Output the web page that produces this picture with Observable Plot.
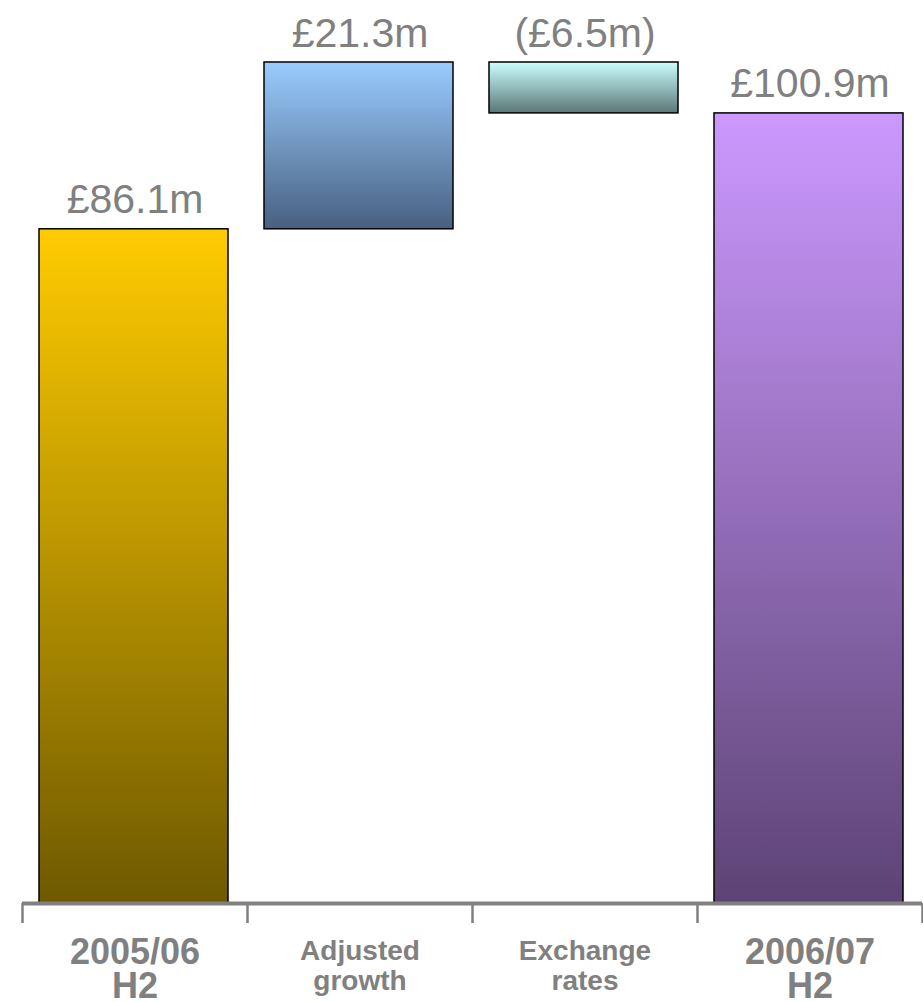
<!DOCTYPE html>
<html>
<head>
<meta charset="utf-8">
<script src="https://cdn.jsdelivr.net/npm/d3@7"></script>
<script src="https://cdn.jsdelivr.net/npm/@observablehq/plot@0.6"></script>
<style>
  html, body { margin: 0; padding: 0; background: #fff; }
  #chart svg { display: block; }
</style>
</head>
<body>
<div id="chart"></div>
<script>
// ---- data ----
const categories = ["2005/06\nH2", "Adjusted\ngrowth", "Exchange\nrates", "2006/07\nH2"];
const kinds = ["total", "delta", "delta", "total"];
const values = [86.1, 21.3, -6.5, 100.9];
const valueLabels = ["£86.1m", "£21.3m", "(£6.5m)", "£100.9m"];

// ---- palette (gradient top / bottom per bar) ----
const gradTop = ["#FFCC00", "#99CCFF", "#CCFFFF", "#CC99FF"];
const gradBottom = ["#6E5900", "#486080", "#5A7777", "#5C4374"];

// waterfall layout
let run = 0;
const rows = categories.map((c, i) => {
  let y1, y2;
  if (kinds[i] === "total") { y1 = 0; y2 = values[i]; }
  else { y1 = run; y2 = run + values[i]; }
  run = y2;
  return {i, c, kind: kinds[i], y1, y2, top: Math.max(y1, y2), label: valueLabels[i]};
});
const yMax = d3.max(rows, d => d.top);

const font = "'Liberation Sans', Arial, Helvetica, sans-serif";
const grey = "#808080";

const chart = Plot.plot({
  width: 923,
  height: 1002,
  marginLeft: 22,
  marginRight: 1,
  marginTop: 62,
  marginBottom: 99,
  style: {background: "#fff", fontFamily: font, overflow: "visible"},
  x: {domain: [0, categories.length], axis: null},
  y: {domain: [0, yMax], axis: null},
  marks: [
    ...rows.map(d => Plot.rectY([d], {
      x1: r => r.i, x2: r => r.i + 1,
      y1: "y1", y2: "y2",
      insetLeft: 17, insetRight: 19,
      fill: `url(#grad${d.i})`,
      stroke: "#000",
      strokeWidth: 1.5
    })),
    Plot.ruleY([0], {stroke: grey, strokeWidth: 4}),
    Plot.ruleX(d3.range(categories.length + 1), {
      x: d => d, y1: 0, y2: 0, insetTop: 20,
      stroke: grey, strokeWidth: 2.5
    }),
    Plot.text(rows, {
      x: d => d.i + 0.5, y: "top", text: "label",
      lineAnchor: "bottom", dy: -16,
      fontSize: 41, fill: grey, fontFamily: font
    }),
    Plot.text(rows.filter(d => d.kind === "total"), {
      x: d => d.i + 0.5, y: 0, text: "c",
      lineAnchor: "top", dy: 37, lineHeight: 0.93,
      fontSize: 36,
      fontWeight: "bold", fill: grey, fontFamily: font
    }),
    Plot.text(rows.filter(d => d.kind !== "total"), {
      x: d => d.i + 0.5, y: 0, text: "c",
      lineAnchor: "top", dy: 35, lineHeight: 1.08,
      fontSize: 28,
      fontWeight: "bold", fill: grey, fontFamily: font
    })
  ]
});

// gradient definitions
const ns = "http://www.w3.org/2000/svg";
const defs = document.createElementNS(ns, "defs");
rows.forEach(d => {
  const g = document.createElementNS(ns, "linearGradient");
  g.setAttribute("id", `grad${d.i}`);
  g.setAttribute("x1", "0"); g.setAttribute("y1", "0");
  g.setAttribute("x2", "0"); g.setAttribute("y2", "1");
  [[0, gradTop[d.i]], [1, gradBottom[d.i]]].forEach(([o, c]) => {
    const s = document.createElementNS(ns, "stop");
    s.setAttribute("offset", o);
    s.setAttribute("stop-color", c);
    g.appendChild(s);
  });
  defs.appendChild(g);
});
chart.insertBefore(defs, chart.firstChild);

document.getElementById("chart").appendChild(chart);
</script>
</body>
</html>
